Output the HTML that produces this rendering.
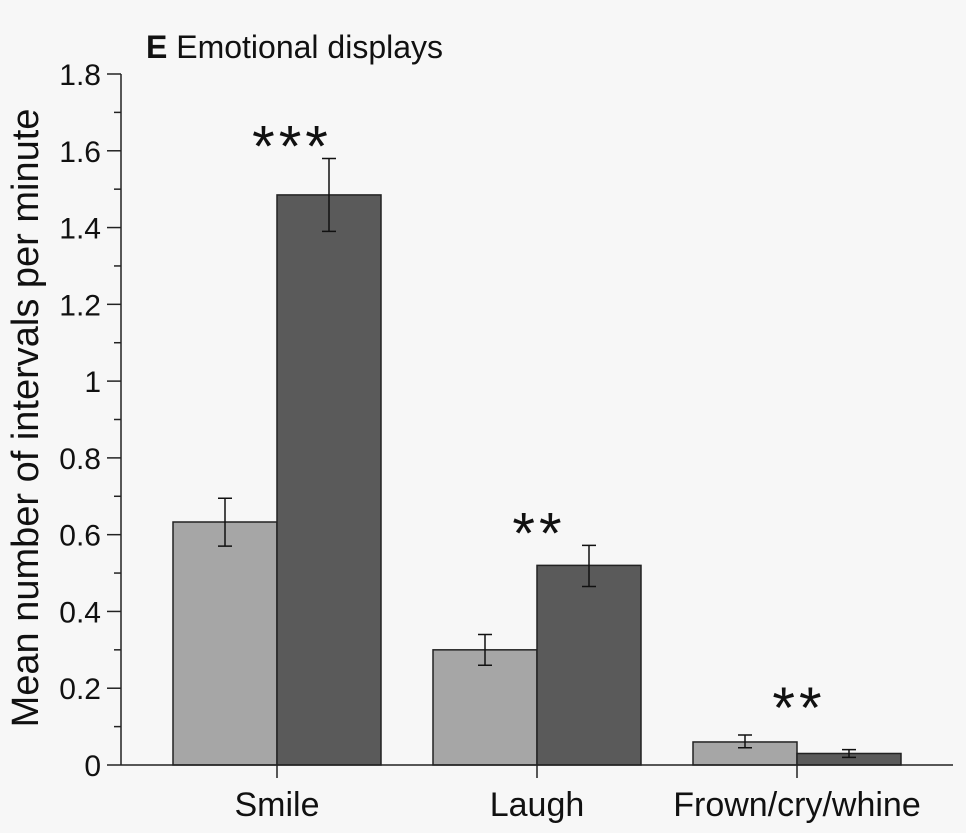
<!DOCTYPE html>
<html><head><meta charset="utf-8"><style>
body{margin:0;background:#f7f7f7;}
svg{display:block;font-family:"Liberation Sans",sans-serif;}
</style></head><body>
<svg id="chart" width="966" height="833" viewBox="0 0 966 833">
<rect width="966" height="833" fill="#f7f7f7"/>
<text x="146" y="58" font-size="32" fill="#111"><tspan font-weight="bold">E</tspan>  Emotional displays</text>
<text transform="translate(38,418) rotate(-90)" text-anchor="middle" font-size="38" fill="#111">Mean number of intervals per minute</text>
<g id="plot"></g>
</svg>
<script>
const categories = ["Smile","Laugh","Frown/cry/whine"];
const lightValues = [0.633, 0.30, 0.06];
const lightErrLow = [0.57, 0.26, 0.045];
const lightErrHigh = [0.695, 0.34, 0.078];
const darkValues = [1.485, 0.52, 0.03];
const darkErrLow = [1.39, 0.465, 0.02];
const darkErrHigh = [1.58, 0.572, 0.04];
const sigLabels = ["***","**","**"];
const yTicks = [0,0.2,0.4,0.6,0.8,1,1.2,1.4,1.6,1.8];
const yTickLabels = ["0","0.2","0.4","0.6","0.8","1","1.2","1.4","1.6","1.8"];

const NS="http://www.w3.org/2000/svg";
const g=document.getElementById('plot');
const x0=121, x1=953, y0=765, yTop=74, yMax=1.8;
const y=v=>y0-(v/yMax)*(y0-yTop);
const cx=i=>277+i*260;
const bw=104;
function mk(tag,attrs,parent){const e=document.createElementNS(NS,tag);for(const k in attrs)e.setAttribute(k,attrs[k]);(parent||g).appendChild(e);return e;}

categories.forEach((c,i)=>{
  const c0=cx(i);
  const lb=mk('rect',{x:c0-bw,y:y(lightValues[i]),width:bw,height:y0-y(lightValues[i]),fill:'#a6a6a6',stroke:'#222','stroke-width':1.5});
  
  
  const db=mk('rect',{x:c0,y:y(darkValues[i]),width:bw,height:y0-y(darkValues[i]),fill:'#5a5a5a',stroke:'#222','stroke-width':1.5});
  
  
  [[c0-bw/2,lightErrLow[i],lightErrHigh[i]],[c0+bw/2,darkErrLow[i],darkErrHigh[i]]].forEach(([ex,lo,hi],j)=>{
    const eb=mk('path',{d:`M${ex},${y(lo)}V${y(hi)}M${ex-7},${y(lo)}H${ex+7}M${ex-7},${y(hi)}H${ex+7}`,stroke:'#111','stroke-width':1.5,fill:'none'});
    
    
  });
  const sy=Math.min(y(darkErrHigh[i])+8, y0-37);
  const st=mk('text',{x:c0+(i===0?15:2),y:sy,'text-anchor':'middle','font-size':58,'letter-spacing':4,fill:'#111'});
  st.textContent=sigLabels[i];
  
  
  const tk=mk('line',{x1:c0,x2:c0,y1:y0,y2:y0+13,stroke:'#222','stroke-width':1.5});
  
  
  const tl=mk('text',{x:c0,y:y0+51,'text-anchor':'middle','font-size':34,fill:'#111'});
  tl.textContent=c;
  
  
});
yTicks.forEach((t,i)=>{
  const tk=mk('line',{x1:x0-14,x2:x0,y1:y(t),y2:y(t),stroke:'#222','stroke-width':1.5});
  
  
  if(i<yTicks.length-1){const m=(t+yTicks[i+1])/2;
    const mt=mk('line',{x1:x0-7,x2:x0,y1:y(m),y2:y(m),stroke:'#222','stroke-width':1.5});
    
    }
  const tl=mk('text',{x:x0-20,y:y(t)+11,'text-anchor':'end','font-size':30,fill:'#111'});
  tl.textContent=yTickLabels[i];
  
  
});
const ya=mk('line',{x1:x0,x2:x0,y1:yTop,y2:y0,stroke:'#222','stroke-width':1.5});


const xa=mk('line',{x1:x0,x2:x1,y1:y0,y2:y0,stroke:'#222','stroke-width':1.5});


</script>
</body></html>
